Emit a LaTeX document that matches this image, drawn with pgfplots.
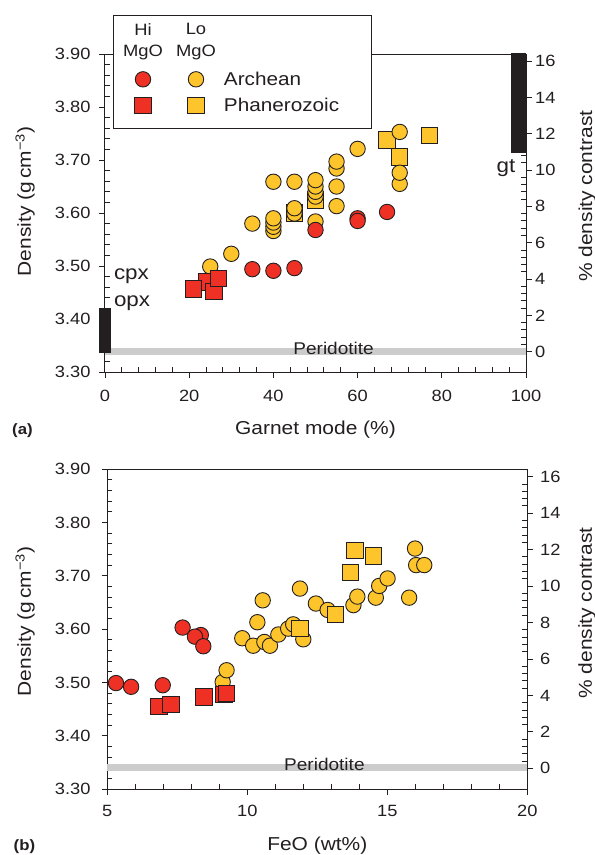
\documentclass[border=0pt]{standalone}
\usepackage{fontspec}
\setmainfont{Liberation Sans}[FakeStretch=1.12]
\usepackage{pgfplots}
\pgfplotsset{compat=1.18}

\definecolor{ink}{HTML}{231F20}
\definecolor{hired}{HTML}{EE3124}
\definecolor{loyel}{HTML}{FDC52B}
\definecolor{band}{HTML}{CCCCCC}

\tikzset{
  txt/.style={font=\fontsize{#1}{1.2\dimexpr#1\relax}\selectfont, text=ink, inner sep=0pt},
  redc/.style={only marks, mark=*, mark size=7.7bp,
    mark options={fill=hired, draw=ink, line width=0.9bp}},
  yelc/.style={only marks, mark=*, mark size=7.7bp,
    mark options={fill=loyel, draw=ink, line width=0.9bp}},
  reds/.style={only marks, mark=square*, mark size=8.2bp,
    mark options={fill=hired, draw=ink, line width=0.9bp}},
  yels/.style={only marks, mark=square*, mark size=8.2bp,
    mark options={fill=loyel, draw=ink, line width=0.9bp}},
}

\pgfplotsset{
  dens/.style={
    scale only axis, clip=false,
    axis line style={ink, line width=1bp},
    tick style={ink, line width=0.9bp},
    tick align=outside,
    major tick length=5.7bp, minor tick length=-5bp,
    tick label style={font=\fontsize{16.3bp}{19bp}\selectfont, text=ink, inner sep=0pt},
    label style={font=\fontsize{18.7bp}{22bp}\selectfont, text=ink, inner sep=0pt},
  },
  % legend row: Hi MgO symbol left, Lo MgO symbol right
  pair/.style 2 args={legend image code/.code={%
    \path[draw=none, fill=none] (-46.5bp,-16bp) rectangle (54.5bp,9bp);
    \draw[#1] plot coordinates {(-26.5bp,0bp)};
    \draw[#2] plot coordinates {(26.5bp,0bp)};}},
  hdr/.style={legend image code/.code={%
    \path[draw=none, fill=none] (-46.5bp,-28.8bp) rectangle (54.5bp,18.2bp);
    \node[align=center, anchor=center, inner sep=0pt, text=ink,
      font=\fontsize{16.4bp}{21.3bp}\selectfont] at (-26.5bp,0bp) {Hi\\MgO};
    \node[align=center, anchor=center, inner sep=0pt, text=ink,
      font=\fontsize{16.4bp}{21.3bp}\selectfont] at (26.5bp,0bp) {Lo\\MgO};}},
}

\begin{document}
\begin{tikzpicture}
\useasboundingbox (0,0) rectangle (595bp,-855bp);

% ---------------- (a) garnet mode ----------------
\begin{axis}[dens,
  at={(105bp,-372bp)}, anchor=south west, width=421bp, height=318bp,
  xmin=0, xmax=100, ymin=3.3, ymax=3.9,
  xtick={0,20,40,60,80,100}, xticklabels={0,20,40,60,80,100},
  ytick={3.3,3.4,3.5,3.6,3.7,3.8,3.9},
  yticklabels={3.30,3.40,3.50,3.60,3.70,3.80,3.90},
  minor x tick num=4, minor y tick num=4,
  xtick pos=left, ytick pos=left,
  xticklabel style={anchor=north, yshift=-11.9bp},
  yticklabel style={anchor=east, xshift=-8.6bp},
  xlabel={Garnet mode (\%)},
  xlabel style={at={(axis description cs:0.5,-0.195)}, anchor=base},
  ylabel={Density (g\,cm\textsuperscript{−3})},
  ylabel style={at={(axis description cs:-0.176,0.536)}, anchor=base},
  legend cell align=left,
  legend style={at={(rel axis cs:0.019,1.1226)}, anchor=north west,
    draw=ink, line width=1bp, fill=white, text=ink,
    font=\fontsize{18.5bp}{22bp}\selectfont,
    inner xsep=9.5bp, inner ysep=6.8bp, row sep=1bp, nodes={inner sep=0pt}},
]
% peridotite reference and mineral bars
\addplot[band, line width=6.5bp, forget plot] coordinates {(0,3.3385) (100,3.3385)};
\addplot[fill=ink, draw=none, forget plot] coordinates
  {(-1.35,3.336) (1.35,3.336) (1.35,3.421) (-1.35,3.421)} -- cycle;
\addplot[fill=ink, draw=none, forget plot] coordinates
  {(96.4,3.714) (100,3.714) (100,3.902) (96.4,3.902)} -- cycle;

% Lo MgO, Phanerozoic
\addplot[yels, forget plot] coordinates {
  (45,3.600) (50,3.625) (67,3.738) (70,3.706) (77,3.746)};
% Lo MgO, Archean
\addplot[yelc, forget plot] coordinates {
  (25,3.499) (30,3.523) (35,3.580)
  (40,3.566) (40,3.574) (40,3.582) (40,3.590) (40,3.659)
  (45,3.599) (45,3.609) (45,3.659)
  (50,3.584) (50,3.631) (50,3.640) (50,3.650) (50,3.662)
  (55,3.613) (55,3.650) (55,3.684) (55,3.697)
  (60,3.721)
  (70,3.655) (70,3.676) (70,3.753)};
% Hi MgO, Archean
\addplot[redc, forget plot] coordinates {
  (35,3.494) (40,3.491) (45,3.496) (50,3.568)
  (60,3.590) (60,3.585) (67,3.602)};
% Hi MgO, Phanerozoic
\addplot[reds, forget plot] coordinates {
  (24.2,3.470) (21,3.457) (25.9,3.452) (26.9,3.477)};

% legend
\addlegendimage{hdr}\addlegendentry{\mbox{}}
\addlegendimage{pair={redc}{yelc}}\addlegendentry{Archean}
\addlegendimage{pair={reds}{yels}}\addlegendentry{Phanerozoic\rule{23bp}{0pt}}

\node[txt=17bp, anchor=base west] at (axis cs:44.7,3.3325) {Peridotite};
\node[txt=20bp, anchor=base west] at (axis cs:2.1,3.475) {cpx};
\node[txt=20bp, anchor=base west] at (axis cs:2.1,3.4245) {opx};
\node[txt=20bp, anchor=base east] at (axis cs:97.5,3.6755) {gt};
\node[font=\bfseries\fontsize{15bp}{18bp}\selectfont, text=ink, inner sep=0pt, anchor=base west]
  at (axis description cs:-0.221,-0.195) {(a)};
\end{axis}

\begin{axis}[dens,
  at={(105bp,-372bp)}, anchor=south west, width=421bp, height=318bp,
  xmin=0, xmax=100, ymin=-1.12, ymax=16.39,
  axis x line=none, axis y line*=right,
  ytick={0,2,4,6,8,10,12,14,16}, yticklabels={0,2,4,6,8,10,12,14,16},
  minor y tick num=4,
  yticklabel style={anchor=west, xshift=3.3bp},
  ylabel={\% density contrast},
  ylabel style={at={(axis description cs:1.157,0.553)}, anchor=base},
]
\end{axis}

% ---------------- (b) FeO ----------------
\begin{axis}[dens,
  at={(107.3bp,-789.3bp)}, anchor=south west, width=420bp, height=320.3bp,
  xmin=5, xmax=20, ymin=3.3, ymax=3.9,
  xtick={5,10,15,20}, xticklabels={5,10,15,20},
  ytick={3.3,3.4,3.5,3.6,3.7,3.8,3.9},
  yticklabels={3.30,3.40,3.50,3.60,3.70,3.80,3.90},
  minor x tick num=4, minor y tick num=4,
  xtick pos=left, ytick pos=left,
  xticklabel style={anchor=north, yshift=-9.6bp},
  yticklabel style={anchor=east, xshift=-10.9bp},
  xlabel={FeO (wt\%)},
  xlabel style={at={(axis description cs:0.5,-0.1895)}, anchor=base},
  ylabel={Density (g\,cm\textsuperscript{−3})},
  ylabel style={at={(axis description cs:-0.182,0.524)}, anchor=base},
]
\addplot[band, line width=6.5bp] coordinates {(5,3.3408) (20,3.3408)};

% Lo MgO, Archean
\addplot[yelc] coordinates {
  (9.12,3.501) (9.26,3.523) (9.82,3.583) (10.21,3.569) (10.36,3.613)
  (10.55,3.654) (10.61,3.576) (10.81,3.569) (11.11,3.590) (11.46,3.601)
  (11.64,3.609) (11.88,3.676) (12.00,3.581) (12.45,3.648) (12.87,3.636)
  (13.79,3.645) (13.93,3.661) (14.59,3.659) (14.71,3.681) (15.01,3.695)
  (15.78,3.659) (15.99,3.751) (16.03,3.720) (16.32,3.720)};
% Lo MgO, Phanerozoic
\addplot[yels] coordinates {
  (11.88,3.601) (13.15,3.627) (13.69,3.706) (13.85,3.747) (14.50,3.737)};
% Hi MgO, Archean
\addplot[redc] coordinates {
  (5.31,3.499) (5.85,3.492) (6.98,3.495) (7.69,3.603)
  (8.34,3.589) (8.13,3.586) (8.43,3.568)};
% Hi MgO, Phanerozoic
\addplot[reds] coordinates {
  (6.85,3.455) (7.27,3.459) (8.45,3.473) (9.17,3.478) (9.26,3.480)};

\node[txt=17bp, anchor=base west] at (axis cs:11.31,3.336) {Peridotite};
\node[font=\bfseries\fontsize{15bp}{18bp}\selectfont, text=ink, inner sep=0pt, anchor=base west]
  at (axis description cs:-0.2233,-0.1895) {(b)};
\end{axis}

\begin{axis}[dens,
  at={(107.3bp,-789.3bp)}, anchor=south west, width=420bp, height=320.3bp,
  xmin=5, xmax=20, ymin=-1.15, ymax=16.42,
  axis x line=none, axis y line*=right,
  ytick={0,2,4,6,8,10,12,14,16}, yticklabels={0,2,4,6,8,10,12,14,16},
  minor y tick num=4,
  yticklabel style={anchor=west, xshift=7bp},
  ylabel={\% density contrast},
  ylabel style={at={(axis description cs:1.154,0.550)}, anchor=base},
]
\end{axis}
\end{tikzpicture}
\end{document}
